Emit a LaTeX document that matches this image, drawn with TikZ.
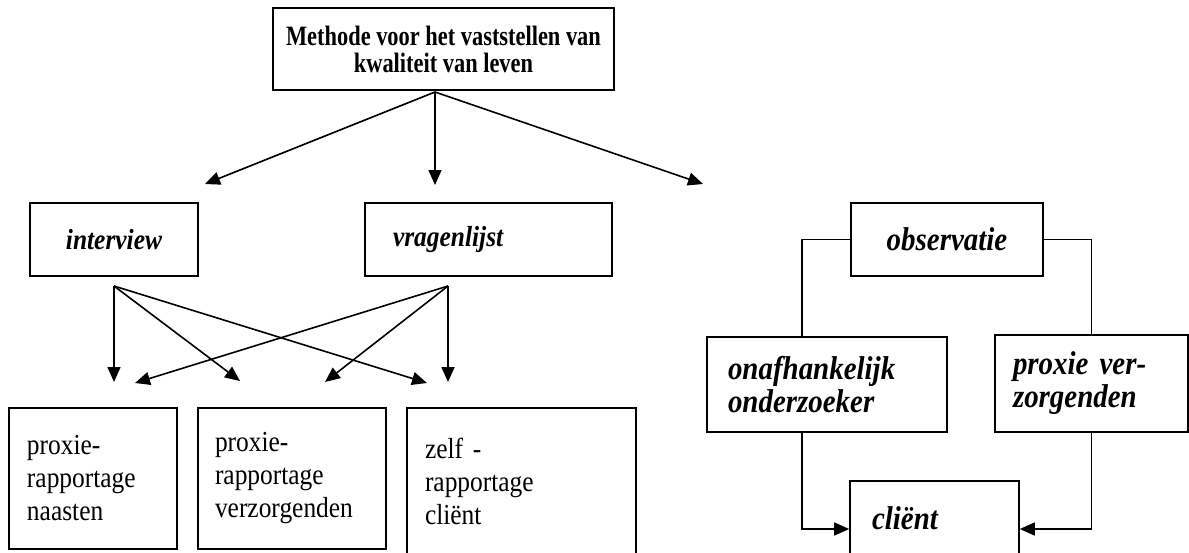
\documentclass[tikz,border=0pt]{standalone}
\usepackage{fontspec}
\setmainfont{Liberation Serif}
\newfontfamily\tallserif[FakeStretch=0.877]{Liberation Serif}
\newfontfamily\titleserif[FakeStretch=0.8]{Liberation Serif}
\usetikzlibrary{arrows.meta, positioning, calc}

\begin{document}
\begin{tikzpicture}[x=1pt, y=-1pt,
    box/.style={draw, rectangle, line width=1.6pt, inner sep=0pt},
    kind/.style={box, minimum height=73pt, font=\tallserif\fontsize{29}{33}\selectfont\bfseries\itshape},
    who/.style={box, align=left, inner xsep=18pt, font=\tallserif\fontsize{29}{33}\selectfont},
    obs/.style={box, align=left, font=\tallserif\fontsize{33}{33}\selectfont\bfseries\itshape},
    arr/.style={-{Triangle[length=15pt, width=13pt]}, line width=1.6pt},
    link/.style={line width=1.6pt}]
    \useasboundingbox (0,0) rectangle (1189,552);
    \clip (0,0) rectangle (1189,552);

    % Nodes with rectangles
    \node[box, minimum width=341pt, minimum height=82pt, align=center,
          font=\titleserif\fontsize{28}{27}\selectfont\bfseries] (methode) at (443.5,49)
          {Methode voor het vaststellen van\\kwaliteit van leven};

    \node[kind, minimum width=168pt] (interview) at (114,239.5) {interview};
    \node[kind, align=left, inner xsep=28pt, text width=191pt] (vragenlijst) at (488.5,239.5) {vragenlijst};
    \node[kind, minimum width=192pt, font=\tallserif\fontsize{33}{33}\selectfont\bfseries\itshape] (observatie) at (947,239.5) {observatie};

    \node[who, text width=132pt, minimum height=141pt] (naasten) at (93,478.5) {proxie-\\rapportage\\naasten};
    \node[who, inner xsep=17pt, text width=154pt, minimum height=141pt] (verzorgenden) at (292,478.5) {proxie-\\rapportage\\verzorgenden};
    \node[who, text width=193pt, minimum height=146pt] (zelf) at (521.5,481) {zelf -\\rapportage\\cliënt};

    \node[obs, inner xsep=21pt, text width=198pt, minimum height=95pt] (onafhankelijk) at (827,384.5) {onafhankelijk\\onderzoeker};
    \node[obs, inner xsep=18pt, text width=157pt, minimum height=97pt] (proxie) at (1091.5,383.5) {proxie ver-\\zorgenden};
    \node[obs, inner xsep=22pt, text width=125pt, minimum height=74pt] (client) at (934.5,518) {cliënt};

    % Free ends of the arrows
    \coordinate (mstart) at (435,92);
    \coordinate (istart) at (114,286);
    \coordinate (vstart) at (448,286);

    % Edges with arrows
    \draw[arr] (mstart) -- (205,184);
    \draw[arr] (mstart) -- (435,185);
    \draw[arr] (mstart) -- (703,184);

    \draw[arr] (istart) -- (114,382);
    \draw[arr] (istart) -- (240,381);
    \draw[arr] (istart) -- (427,383);
    \draw[arr] (vstart) -- (448,382);
    \draw[arr] (vstart) -- (135,383);
    \draw[arr] (vstart) -- (325,382);

    \draw[link] (observatie.west) -| ($(onafhankelijk.north west)+(96,0)$);
    \draw[link] (observatie.east) -| (proxie.north);
    \draw[arr] ($(onafhankelijk.south west)+(96,0)$) |- ($(client.west)+(0,11)$);
    \draw[arr] (proxie.south) |- ($(client.east)+(0,11)$);
\end{tikzpicture}
\end{document}
